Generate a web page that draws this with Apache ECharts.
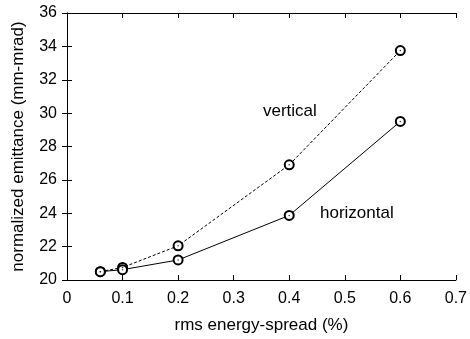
<!DOCTYPE html>
<html>
<head>
<meta charset="utf-8">
<script src="https://cdn.jsdelivr.net/npm/echarts@6/dist/echarts.min.js"></script>
<style>
  html, body { margin: 0; padding: 0; background: #fff; }
  #chart { width: 470px; height: 339px; }
</style>
</head>
<body>
<div id="chart"></div>
<script>
// energy spread (%) and emittance values
const spread = [0.06, 0.1, 0.2, 0.4, 0.6];
const vertical = [20.5, 20.75, 22.05, 26.9, 33.75];
const horizontal = [20.5, 20.62, 21.2, 23.87, 29.5];

const font = 'Liberation Sans, Arial, sans-serif';

const pairs = (xs, ys) => xs.map((x, i) => [x, ys[i]]);

const mainX = {
  type: 'value', min: 0, max: 0.7, interval: 0.1,
  name: 'rms energy-spread (%)', nameLocation: 'middle', nameGap: 37,
  nameTextStyle: { color: '#000', fontSize: 17, fontFamily: font },
  axisLine: { lineStyle: { color: '#000', width: 1 } },
  axisTick: { inside: true, length: 5, lineStyle: { color: '#000' } },
  axisLabel: { color: '#000', fontSize: 16, fontFamily: font, margin: 11,
    formatter: v => String(Math.round(v * 10) / 10) },
  splitLine: { show: false }
};
const mainY = {
  type: 'value', min: 20, max: 36, interval: 2,
  name: 'normalized emittance (mm-mrad)', nameLocation: 'middle', nameGap: 40,
  nameTextStyle: { color: '#000', fontSize: 17, fontFamily: font },
  axisLine: { lineStyle: { color: '#000', width: 1 } },
  axisTick: { inside: true, length: 5, lineStyle: { color: '#000' } },
  axisLabel: { color: '#000', fontSize: 16, fontFamily: font, margin: 10 },
  splitLine: { show: false }
};
const mirror = extra => Object.assign({
  type: 'value',
  axisLine: { show: true, lineStyle: { color: '#000' } },
  axisTick: { show: true, inside: true, length: 5, lineStyle: { color: '#000' } },
  axisLabel: { show: false }, splitLine: { show: false }
}, extra);

const lineSeries = (name, ys, dash) => ({
  name, type: 'line', data: pairs(spread, ys),
  symbol: 'emptyCircle', symbolSize: 9,
  lineStyle: { color: '#000', width: 1, type: dash },
  itemStyle: { color: '#000', borderColor: '#333', borderWidth: 1 },
  z: 2
});
const dotSeries = ys => ({
  type: 'scatter', data: pairs(spread, ys), symbol: 'circle', symbolSize: 1.5,
  itemStyle: { color: '#000' }, z: 3, silent: true
});

const chart = echarts.init(document.getElementById('chart'));
chart.setOption({
  animation: false,
  grid: { left: 67, right: 11, top: 13, bottom: 58 },
  xAxis: [mainX, mirror({ position: 'top', min: 0, max: 0.7, interval: 0.1 })],
  yAxis: [mainY, mirror({ position: 'right', min: 20, max: 36, interval: 2 })],
  series: [
    lineSeries('vertical', vertical, [3, 2]),
    lineSeries('horizontal', horizontal, 'solid'),
    dotSeries(vertical),
    dotSeries(horizontal)
  ],
  graphic: [
    { type: 'text', left: 263, top: 103,
      style: { text: 'vertical', fill: '#000', font: '17px ' + font } },
    { type: 'text', left: 320, top: 205,
      style: { text: 'horizontal', fill: '#000', font: '17px ' + font } }
  ]
});
</script>
</body>
</html>
